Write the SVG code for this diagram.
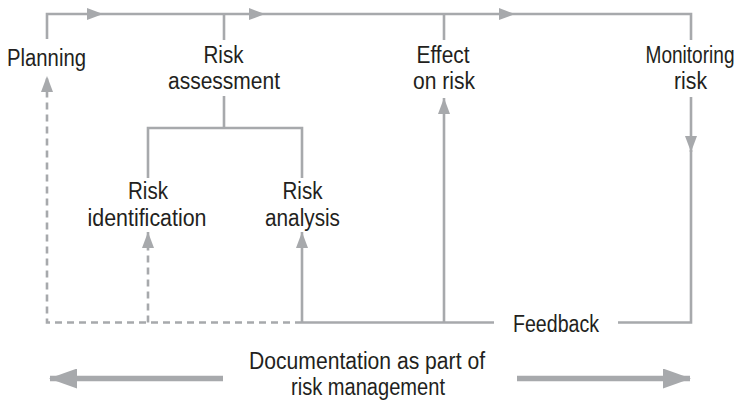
<svg xmlns="http://www.w3.org/2000/svg" width="740" height="405" viewBox="0 0 740 405">
<defs>
<style>
.ln{fill:none;stroke:#a7a9ac;stroke-width:2.6}
.ds{stroke-dasharray:7 5}
.big{fill:none;stroke:#a7a9ac;stroke-width:5.5}
text{font-family:"Liberation Sans",Arial,sans-serif;font-size:23.5px;fill:#231f20;text-anchor:middle}
</style>
<marker id="ah" markerUnits="userSpaceOnUse" markerWidth="16" markerHeight="12" refX="16" refY="6" orient="auto" viewBox="0 0 16 12">
<path d="M0,0 L16,6 L0,12 Z" fill="#a7a9ac"/>
</marker>
<marker id="bh" markerUnits="userSpaceOnUse" markerWidth="28" markerHeight="20" refX="27" refY="10" orient="auto" viewBox="0 0 28 20">
<path d="M0,0 L28,10 L0,20 Z" fill="#a7a9ac"/>
</marker>
</defs>
<g id="connectors">
<path class="ln" d="M47,39 V14 H103" marker-end="url(#ah)"/>
<path class="ln" d="M103,14 H265" marker-end="url(#ah)"/>
<path class="ln" d="M265,14 H515" marker-end="url(#ah)"/>
<path class="ln" d="M515,14 H691 V40"/>
<path class="ln" d="M224,14 V40"/>
<path class="ln" d="M444,14 V40"/>
<path class="ln" d="M224,96 V128 M148,178 V128 H302 V178"/>
<path class="ln" d="M691,97 V152" marker-end="url(#ah)"/>
<path class="ln" d="M691,150 V322.5 H618"/>
<path class="ln" d="M494,322.5 H302"/>
<path class="ln" d="M444,322.5 V98" marker-end="url(#ah)"/>
<path class="ln" d="M302,322.5 V232" marker-end="url(#ah)"/>
<path class="ln ds" d="M302,322.5 H47 V76" marker-end="url(#ah)"/>
<path class="ln ds" d="M148,322.5 V232" marker-end="url(#ah)"/>
<path class="big" d="M223,378.5 H50" marker-end="url(#bh)"/>
<path class="big" d="M517,378.5 H690" marker-end="url(#bh)"/>
</g>
<g id="planning"><text x="46.5" y="65.5" textLength="79" lengthAdjust="spacingAndGlyphs">Planning</text></g>
<g id="risk-assessment">
<text x="223.5" y="62.5" textLength="40" lengthAdjust="spacingAndGlyphs">Risk</text>
<text x="224" y="88.5" textLength="112" lengthAdjust="spacingAndGlyphs">assessment</text>
</g>
<g id="effect-on-risk">
<text x="443" y="62.5" textLength="53" lengthAdjust="spacingAndGlyphs">Effect</text>
<text x="444" y="88.5" textLength="62" lengthAdjust="spacingAndGlyphs">on risk</text>
</g>
<g id="monitoring-risk">
<text x="0" y="0" transform="translate(690 62.5) scale(1 1.146)" textLength="89" lengthAdjust="spacingAndGlyphs" style="font-size:20.5px">Monitoring</text>
<text x="690.5" y="88.5" textLength="33" lengthAdjust="spacingAndGlyphs">risk</text>
</g>
<g id="risk-identification">
<text x="148" y="199" textLength="40" lengthAdjust="spacingAndGlyphs">Risk</text>
<text x="147" y="226" textLength="119" lengthAdjust="spacingAndGlyphs">identification</text>
</g>
<g id="risk-analysis">
<text x="302.5" y="199" textLength="40" lengthAdjust="spacingAndGlyphs">Risk</text>
<text x="302.5" y="226" textLength="75" lengthAdjust="spacingAndGlyphs">analysis</text>
</g>
<g id="feedback"><text x="556" y="332" textLength="86" lengthAdjust="spacingAndGlyphs">Feedback</text></g>
<g id="documentation">
<text x="367" y="369" textLength="236" lengthAdjust="spacingAndGlyphs">Documentation as part of</text>
<text x="368" y="395" textLength="154" lengthAdjust="spacingAndGlyphs">risk management</text>
</g>
</svg>
